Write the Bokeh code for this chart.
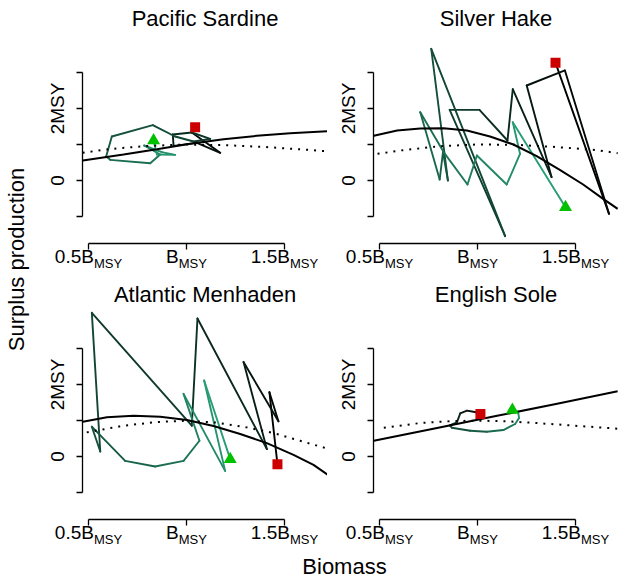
import math
from bokeh.plotting import figure
from bokeh.models import Range1d, FixedTicker, Label, LinearAxis
from bokeh.layouts import row, column
from bokeh.embed import file_html
from bokeh.resources import INLINE

FONT = "Liberation Sans"

# ---------------- data (B/BMSY, surplus production / MSY) ----------------
species = ["Pacific Sardine", "Silver Hake", "Atlantic Menhaden", "English Sole"]

x_ticks = [0.5, 1.0, 1.5]
x_tick_main = ["0.5B", "B", "1.5B"]
x_tick_sub = "MSY"
y_ticks = [-1, 0, 1, 2, 3]
y_tick_labels = {0: "0", 2: "2MSY"}

sardine_b = [1.044, 1.027, 1.172, 1.053, 0.934, 0.930, 1.027, 1.121, 1.036, 0.942, 0.828,
             0.619, 0.590, 0.611, 0.815, 0.866, 0.784, 0.874, 0.942, 0.849, 0.832]
sardine_sp = [1.481, 1.333, 0.769, 1.046, 0.963, 1.278, 1.333, 1.157, 1.083, 1.222, 1.537,
              1.222, 0.667, 0.574, 0.481, 0.722, 0.972, 0.787, 0.713, 0.722, 1.111]
sardine_fit_b = [0.471, 0.679, 0.849, 1.019, 1.189, 1.359, 1.529, 1.724]
sardine_fit_sp = [0.556, 0.722, 0.870, 1.019, 1.148, 1.241, 1.315, 1.370]
sardine_ref_b = [0.47, 0.6, 0.8, 1.0, 1.2, 1.4, 1.6, 1.72]
sardine_ref_sp = [0.77, 0.87, 0.96, 1.0, 0.98, 0.93, 0.86, 0.81]

hake_b = [1.398, 1.671, 1.446, 1.251, 1.378, 1.180, 1.153, 1.010, 0.858, 1.141, 0.764,
          0.849, 0.824, 0.807, 0.708, 0.831, 0.949, 0.997, 1.149, 1.217, 1.180, 1.449]
hake_sp = [3.269, -0.926, 3.056, 2.639, 0.093, 2.537, 1.111, 1.963, 1.963, -1.546, 3.657,
           0.0, 0.787, 0.028, 1.898, 0.759, -0.111, 0.694, -0.111, 0.741, 1.620, -0.741]
hake_fit_b = [0.471, 0.590, 0.708, 0.827, 0.946, 1.064, 1.183, 1.302, 1.420, 1.539, 1.641, 1.715]
hake_fit_sp = [1.241, 1.389, 1.444, 1.454, 1.389, 1.222, 1.0, 0.676, 0.296, -0.111, -0.509, -0.787]
hake_ref_b = [0.49, 0.6, 0.8, 1.0, 1.2, 1.4, 1.6, 1.715]
hake_ref_sp = [0.74, 0.83, 0.95, 1.0, 0.99, 0.93, 0.85, 0.76]

menhaden_b = [1.464, 1.423, 1.469, 1.291, 1.410, 1.056, 1.027, 0.517, 0.560, 0.517, 0.687,
              0.840, 0.985, 1.066, 0.985, 1.197, 1.090, 1.223]
menhaden_sp = [-0.214, 1.786, 0.977, 2.623, 0.205, 3.833, 0.856, 3.991, 0.140, 0.828, -0.121,
               -0.279, -0.121, 0.437, 1.740, -0.400, 2.112, -0.074]
menhaden_fit_b = [0.471, 0.594, 0.730, 0.866, 1.002, 1.138, 1.274, 1.410, 1.546, 1.648, 1.724]
menhaden_fit_sp = [0.967, 1.088, 1.135, 1.107, 1.014, 0.847, 0.623, 0.372, 0.047, -0.233, -0.521]
menhaden_ref_b = [0.491, 0.679, 0.849, 1.002, 1.155, 1.308, 1.444, 1.580, 1.716]
menhaden_ref_sp = [0.670, 0.856, 0.958, 0.995, 0.940, 0.809, 0.651, 0.437, 0.223]

sole_b = [1.015, 0.993, 0.946, 0.912, 0.895, 0.858, 0.869, 0.963, 1.047, 1.132, 1.192,
          1.212, 1.208, 1.178]
sole_sp = [1.181, 1.228, 1.274, 1.200, 0.949, 0.865, 0.800, 0.716, 0.688, 0.735, 0.902,
           1.070, 1.209, 1.293]
sole_fit_b = [0.471, 0.8, 1.1, 1.4, 1.715]
sole_fit_sp = [0.437, 0.80, 1.13, 1.46, 1.81]
sole_ref_b = [0.522, 0.708, 0.878, 1.014, 1.149, 1.302, 1.471, 1.715]
sole_ref_sp = [0.80, 0.93, 0.986, 0.995, 0.977, 0.93, 0.865, 0.772]

# ---------------- styling / layout ----------------
FIG_W, FIG_H = 291, 276
PX_X, PX_Y = 196.0, 36.0            # pixels per unit
X_START = 0.5 - 52 / PX_X           # figure left edge
X_END = X_START + FIG_W / PX_X
Y_END = 180 / PX_Y                  # figure top edge
Y_START = Y_END - FIG_H / PX_Y
YAXIS_AT = 0.5 - 6 / PX_X           # data x where the y axis sits
XAXIS_AT = (180 - 243) / PX_Y       # data y where the x axis sits

START_C = (0, 0, 0)
END_C = (40, 158, 118)

AR_W = {"0": .556, "1": .556, "5": .556, ".": .278, "B": .667, "M": .833, "S": .667, "Y": .667}
MID = 0.35  # baseline -> visual middle, in em


def tw(s, size):
    return sum(AR_W.get(c, 0.556) for c in s) * size


def grad(n):
    out = []
    for i in range(n):
        t = i / (n - 1) if n > 1 else 0
        out.append("#%02x%02x%02x" % tuple(int(round(a + (b - a) * t)) for a, b in zip(START_C, END_C)))
    return out


def style_axis(ax, ticks, bnds):
    ax.ticker = FixedTicker(ticks=ticks)
    ax.bounds = bnds
    ax.axis_line_width = 1.3
    ax.axis_line_color = "black"
    ax.major_tick_line_color = "black"
    ax.major_tick_line_width = 1.3
    ax.major_tick_out = 6
    ax.major_tick_in = 0
    ax.minor_tick_line_color = None
    ax.major_label_overrides = {t: "" for t in ticks}
    ax.major_label_text_font_size = "1px"


def make_panel(name, tb, tsp, fb, fsp, rb, rsp):
    p = figure(width=FIG_W, height=FIG_H, min_border=0,
               x_range=Range1d(X_START, X_END), y_range=Range1d(Y_START, Y_END),
               x_axis_location=None, y_axis_location=None,
               output_backend="svg", toolbar_location=None, title=None)
    p.outline_line_color = None
    p.grid.visible = False
    p.background_fill_color = "white"
    p.border_fill_color = "white"

    xa = LinearAxis(fixed_location=XAXIS_AT)
    style_axis(xa, x_ticks, (0.5, 1.5))
    p.add_layout(xa, "below")
    ya = LinearAxis(fixed_location=YAXIS_AT)
    style_axis(ya, y_ticks, (-1, 3))
    p.add_layout(ya, "left")

    # trajectory (black -> green through time)
    colors = grad(len(tb) - 1)
    p.segment(x0=tb[:-1], y0=tsp[:-1], x1=tb[1:], y1=tsp[1:],
              line_color=colors, line_width=1.9, line_cap="round")
    # reference (dotted) and fitted (solid) curves
    p.line(rb, rsp, line_color="black", line_width=2, line_dash="2 6")
    p.line(fb, fsp, line_color="black", line_width=2)
    # start / end markers
    p.scatter(x=[tb[0]], y=[tsp[0]], marker="square", size=10,
              fill_color="#cc0000", line_color=None)
    p.scatter(x=[tb[-1]], y=[tsp[-1]], marker="triangle", size=13,
              fill_color="#00c000", line_color=None)

    # title (baseline 26 px below figure top)
    p.add_layout(Label(x=168.5, x_units="screen", y=FIG_H - (26 - MID * 22), y_units="screen",
                       text=name, text_align="center", text_baseline="middle",
                       text_font=FONT, text_font_size="22px", text_color="black"))
    # y tick labels (rotated, baseline 18 px left of the axis)
    for v, txt in y_tick_labels.items():
        p.add_layout(Label(x=28 - MID * 19, x_units="screen", y=v, y_units="data", text=txt,
                           angle=math.pi / 2, text_align="center", text_baseline="middle",
                           text_font=FONT, text_font_size="19px", text_color="black"))
    # x tick labels with subscript
    for v, main in zip(x_ticks, x_tick_main):
        total = tw(main, 19) + tw(x_tick_sub, 13)
        dx = -total / 2 + tw(main, 19)
        p.add_layout(Label(x=v, x_units="data", y=FIG_H - (263 - MID * 19), y_units="screen",
                           x_offset=dx, text=main, text_align="right", text_baseline="middle",
                           text_font=FONT, text_font_size="19px", text_color="black"))
        p.add_layout(Label(x=v, x_units="data", y=FIG_H - (268 - MID * 13), y_units="screen",
                           x_offset=dx, text=x_tick_sub, text_align="left", text_baseline="middle",
                           text_font=FONT, text_font_size="13px", text_color="black"))
    return p


p1 = make_panel(species[0], sardine_b, sardine_sp, sardine_fit_b, sardine_fit_sp, sardine_ref_b, sardine_ref_sp)
p2 = make_panel(species[1], hake_b, hake_sp, hake_fit_b, hake_fit_sp, hake_ref_b, hake_ref_sp)
p3 = make_panel(species[2], menhaden_b, menhaden_sp, menhaden_fit_b, menhaden_fit_sp, menhaden_ref_b, menhaden_ref_sp)
p4 = make_panel(species[3], sole_b, sole_sp, sole_fit_b, sole_fit_sp, sole_ref_b, sole_ref_sp)


def blank(w, h):
    f = figure(width=w, height=h, x_range=Range1d(0, 1), y_range=Range1d(0, 1),
               min_border=0, x_axis_location=None, y_axis_location=None,
               output_backend="svg", toolbar_location=None, title=None)
    f.outline_line_color = None
    f.grid.visible = False
    f.xgrid.grid_line_color = None
    f.ygrid.grid_line_color = None
    return f


ylab = blank(36, 580)
ylab.add_layout(Label(x=24 - MID * 22, x_units="screen", y=580 - 259, y_units="screen",
                      text="Surplus production", angle=math.pi / 2, text_align="center",
                      text_baseline="middle", text_font=FONT, text_font_size="22px",
                      text_color="black"))
xlab = blank(582, 28)
xlab.add_layout(Label(x=308, x_units="screen", y=28 - (574 - 552 - MID * 22), y_units="screen",
                      text="Biomass", text_align="center", text_baseline="middle", text_font=FONT,
                      text_font_size="22px", text_color="black"))

layout = row(ylab, column(row(p1, p2), row(p3, p4), xlab))

open("out.html", "w").write(file_html(layout, INLINE))
